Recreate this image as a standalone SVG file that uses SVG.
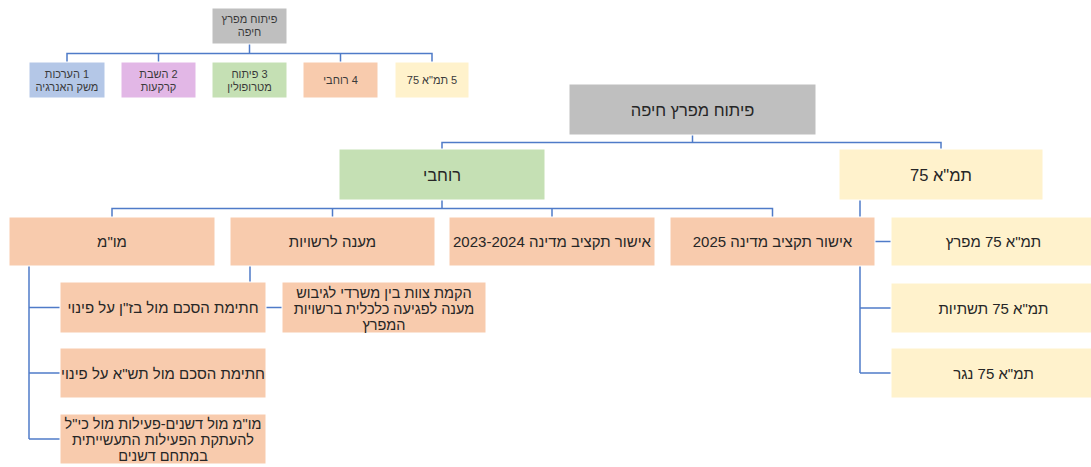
<svg xmlns="http://www.w3.org/2000/svg" width="1091" height="467" viewBox="0 0 1091 467">
<style>
  .box { stroke: #ffffff; stroke-width: 1; }
  .gray { fill: #bfbfbf; }
  .green { fill: #c5e0b4; }
  .orange { fill: #f8cbad; }
  .yellow { fill: #fff2cc; }
  .blue { fill: #b4c7e7; }
  .purple { fill: #e2b7e6; }
  .t { font-family: "Liberation Sans", Arial, "DejaVu Sans", sans-serif; font-size: 15px; fill: #262626; text-anchor: middle; direction: rtl; }
  .big { font-size: 16.5px; }
  .sm { font-size: 14.5px; }
  .s { font-family: "Liberation Sans", Arial, "DejaVu Sans", sans-serif; font-size: 11px; fill: #3a3a3a; text-anchor: middle; direction: rtl; }
  .c { fill: none; stroke: #4f7bc8; stroke-width: 1.5; }
</style>
<rect width="1091" height="467" fill="#ffffff"/>

<g id="connectors" class="c">
  <!-- legend -->
  <path d="M249.5,44 V53.5"/>
  <path d="M67,62 V53.5 H432 V62"/>
  <path d="M158.5,53.5 V62"/>
  <path d="M340.5,53.5 V62"/>
  <!-- main tree -->
  <path d="M692.5,135 V142.5"/>
  <path d="M442,149 V142.5 H941 V149"/>
  <path d="M442,200 V208.5"/>
  <path d="M112,217 V208.5 H772.5 V217"/>
  <path d="M332.5,208.5 V217"/>
  <path d="M552,208.5 V217"/>
  <!-- tama 75 children -->
  <path d="M860,200 V373"/>
  <path d="M860,241.5 H891"/>
  <path d="M860,308 H891"/>
  <path d="M860,373 H891"/>
  <!-- mo"m children -->
  <path d="M29,266 V439"/>
  <path d="M29,307.5 H60"/>
  <path d="M29,373 H60"/>
  <path d="M29,439 H60"/>
  <!-- maane children -->
  <path d="M250,266 V307.5 H282"/>
</g>

<!-- legend -->
<g id="legend-root">
  <rect class="box gray" x="212" y="8" width="75" height="36"/>
  <text class="s"><tspan x="249.5" y="22.5">פיתוח מפרץ</tspan><tspan x="249.5" y="35.5">חיפה</tspan></text>
</g>
<g id="legend-1">
  <rect class="box blue" x="29" y="62" width="76" height="36"/>
  <text class="s"><tspan x="67" y="77.5">1 הערכות</tspan><tspan x="67" y="90.5">משק האנרגיה</tspan></text>
</g>
<g id="legend-2">
  <rect class="box purple" x="121" y="62" width="75" height="36"/>
  <text class="s"><tspan x="158.5" y="77.5">2 השבת</tspan><tspan x="158.5" y="90.5">קרקעות</tspan></text>
</g>
<g id="legend-3">
  <rect class="box green" x="212" y="62" width="75" height="36"/>
  <text class="s"><tspan x="249.5" y="77.5">3 פיתוח</tspan><tspan x="249.5" y="90.5">מטרופולין</tspan></text>
</g>
<g id="legend-4">
  <rect class="box orange" x="303" y="62" width="75" height="36"/>
  <text class="s" x="340.5" y="84">4 רוחבי</text>
</g>
<g id="legend-5">
  <rect class="box yellow" x="395" y="62" width="74" height="36"/>
  <text class="s" x="432" y="84">5 תמ"א 75</text>
</g>

<!-- main tree -->
<g id="root">
  <rect class="box gray" x="569" y="84" width="247" height="51"/>
  <text class="t big" x="692.5" y="115.5">פיתוח מפרץ חיפה</text>
</g>
<g id="rohbi">
  <rect class="box green" x="339" y="149" width="206" height="51"/>
  <text class="t big" x="442" y="180.5">רוחבי</text>
</g>
<g id="tama75">
  <rect class="box yellow" x="839" y="149" width="204" height="51"/>
  <text class="t big" x="941" y="180.5">תמ"א 75</text>
</g>

<g id="momm">
  <rect class="box orange" x="9" y="217" width="206" height="49"/>
  <text class="t" x="112" y="247">מו"מ</text>
</g>
<g id="maane">
  <rect class="box orange" x="230" y="217" width="205" height="49"/>
  <text class="t" x="332.5" y="247">מענה לרשויות</text>
</g>
<g id="budget-2023">
  <rect class="box orange" x="449" y="217" width="206" height="49"/>
  <text class="t" x="552" y="247">אישור תקציב מדינה 2023-2024</text>
</g>
<g id="budget-2025">
  <rect class="box orange" x="670" y="217" width="205" height="49"/>
  <text class="t" x="772.5" y="247">אישור תקציב מדינה 2025</text>
</g>

<g id="tama-mifratz">
  <rect class="box yellow" x="891" y="217" width="205" height="49"/>
  <text class="t" x="993.5" y="247">תמ"א 75 מפרץ</text>
</g>
<g id="tama-tashtiyot">
  <rect class="box yellow" x="891" y="283" width="205" height="50"/>
  <text class="t" x="993.5" y="313.5">תמ"א 75 תשתיות</text>
</g>
<g id="tama-nagar">
  <rect class="box yellow" x="891" y="348" width="205" height="50"/>
  <text class="t" x="993.5" y="378.5">תמ"א 75 נגר</text>
</g>

<g id="bazan">
  <rect class="box orange" x="60" y="282" width="206" height="51"/>
  <text class="t" x="163" y="313">חתימת הסכם מול בז"ן על פינוי</text>
</g>
<g id="tasha">
  <rect class="box orange" x="60" y="348" width="206" height="50"/>
  <text class="t" x="163" y="378.5">חתימת הסכם מול תש"א על פינוי</text>
</g>
<g id="deshanim">
  <rect class="box orange" x="60" y="414" width="206" height="50"/>
  <text class="t sm"><tspan x="163" y="428.5">מו"מ מול דשנים-פעילות מול כי"ל</tspan><tspan x="163" y="444.5">להעתקת הפעילות התעשייתית</tspan><tspan x="163" y="460.5">במתחם דשנים</tspan></text>
</g>
<g id="tzevet">
  <rect class="box orange" x="282" y="282" width="204" height="51"/>
  <text class="t sm"><tspan x="384" y="297.5">הקמת צוות בין משרדי לגיבוש</tspan><tspan x="384" y="313.5">מענה לפגיעה כלכלית ברשויות</tspan><tspan x="384" y="329.5">המפרץ</tspan></text>
</g>
</svg>
